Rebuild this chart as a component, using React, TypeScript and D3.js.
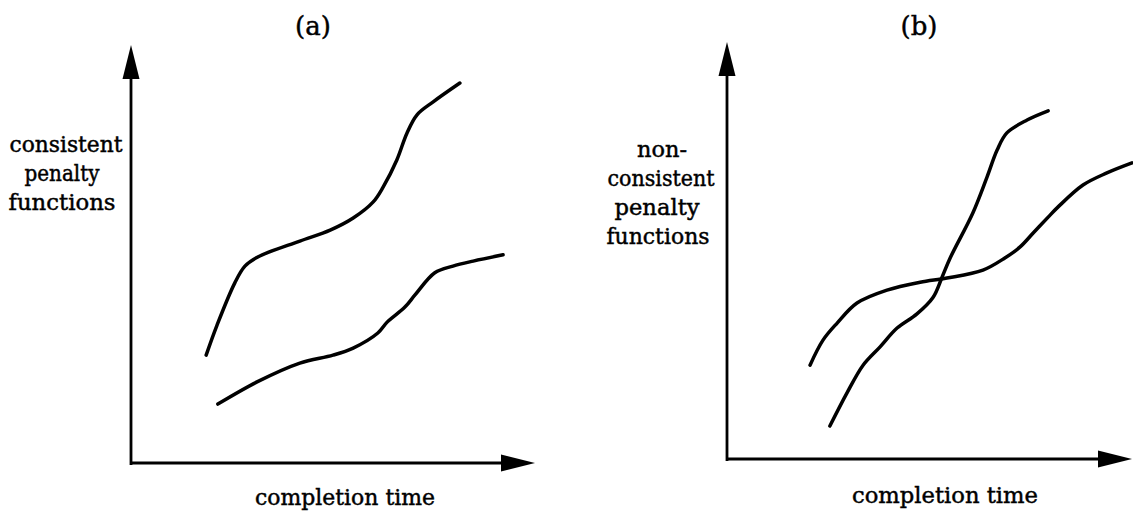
import React from "react";
import * as d3 from "d3";

// Panel (a): consistent penalty functions (x: completion time, y: penalty, 0-100 units)
const aUpperX = [18.6, 21.3, 25.7, 28.2, 31.4, 41.8, 49.3, 55.0, 59.9, 62.4, 65.8, 68.3, 70.8, 74.8, 81.4];
const aUpperY = [25.8, 33.0, 43.1, 47.1, 49.3, 53.1, 55.7, 58.6, 62.4, 66.0, 72.5, 78.9, 83.3, 86.4, 90.9];
const aLowerX = [21.5, 31.2, 41.8, 50.0, 55.0, 61.1, 63.4, 67.8, 70.3, 75.2, 79.7, 84.7, 92.1];
const aLowerY = [14.1, 19.4, 23.9, 25.8, 27.5, 31.1, 33.7, 37.3, 40.2, 45.5, 47.1, 48.3, 49.8];

// Panel (b): non-consistent penalty functions
const bFlatX = [20.5, 23.7, 27.2, 32.1, 39.5, 47.7, 54.3, 63.2, 68.6, 72.3, 75.6, 79.3, 81.7, 87.9, 93.8, 100];
const bFlatY = [22.5, 28.5, 32.6, 37.4, 40.5, 42.4, 43.4, 45.3, 48.2, 50.8, 54.2, 58.0, 60.4, 65.7, 68.6, 71.0];
const bSteepX = [25.4, 29.6, 33.6, 37.8, 42.0, 46.9, 50.9, 53.1, 55.1, 60.7, 64.2, 66.7, 69.1, 74.1, 79.3];
const bSteepY = [7.9, 15.8, 22.5, 26.9, 31.4, 34.8, 38.8, 43.6, 48.2, 59.0, 67.6, 74.1, 78.2, 81.3, 83.5];

const titles = ["(a)", "(b)"];
const aYLabel = ["consistent", "penalty", "functions"];
const bYLabel = ["non-", "consistent", "penalty", "functions"];
const xLabel = "completion time";

const FONT = "DejaVu Serif, Liberation Serif, serif";

type Pt = [number, number];
const zip = (xs: number[], ys: number[]): Pt[] => xs.map((x, i) => [x, ys[i]]);

function Panel({
  x0, x1, y0, y1, curves, title, titleX, yLabel, yLabelLines, xLabelPos,
}: {
  x0: number; x1: number; y0: number; y1: number;
  curves: Pt[][]; title: string; titleX: number;
  yLabel: string[]; yLabelLines: { cx: number; y: number; w: number }[];
  xLabelPos: { cx: number; y: number; w: number };
}) {
  const xs = d3.scaleLinear().domain([0, 100]).range([x0, x1]);
  const ys = d3.scaleLinear().domain([0, 100]).range([y0, y1]);
  const line = d3
    .line<Pt>()
    .x((d) => xs(d[0]))
    .y((d) => ys(d[1]))
    .curve(d3.curveCatmullRom.alpha(0.5));
  const headLenY = 34, headHalf = 8.5, headLenX = 34;
  const ox = xs(0), oy = ys(0);
  const tipY = ys(100), tipX = xs(100);
  const textStroke = { stroke: "#000", strokeWidth: 0.45 };
  return (
    <g>
      {/* y axis */}
      <line x1={ox} y1={oy + 2} x2={ox} y2={tipY + headLenY - 2} stroke="#000" strokeWidth={2.8} />
      <path d={`M${ox},${tipY} L${ox - headHalf},${tipY + headLenY} L${ox + headHalf},${tipY + headLenY} Z`} fill="#000" />
      {/* x axis */}
      <line x1={ox - 1} y1={oy} x2={tipX - headLenX + 2} y2={oy} stroke="#000" strokeWidth={2.8} />
      <path d={`M${tipX},${oy} L${tipX - headLenX},${oy - headHalf} L${tipX - headLenX},${oy + headHalf} Z`} fill="#000" />
      {curves.map((c, i) => (
        <path key={i} d={line(c) || ""} fill="none" stroke="#000" strokeWidth={3.5} strokeLinecap="round" strokeLinejoin="round" />
      ))}
      <text x={titleX} y={35} textAnchor="middle" fontFamily={FONT} fontSize={26} fill="#000" {...textStroke}>{title}</text>
      {yLabel.map((t, i) => (
        <text key={t + i} x={yLabelLines[i].cx} y={yLabelLines[i].y} textAnchor="middle" fontFamily={FONT}
          fontSize={22} fill="#000" textLength={yLabelLines[i].w} lengthAdjust="spacingAndGlyphs" {...textStroke}>{t}</text>
      ))}
      <text x={xLabelPos.cx} y={xLabelPos.y} textAnchor="middle" fontFamily={FONT} fontSize={22} fill="#000"
        textLength={xLabelPos.w} lengthAdjust="spacingAndGlyphs" {...textStroke}>{xLabel}</text>
    </g>
  );
}

export default function App() {
  return (
    <svg width={1133} height={515} style={{ position: "absolute", left: 0, top: 0, background: "#fff" }}>
      <rect width={1133} height={515} fill="#fff" />
      <Panel
        x0={131} x1={535} y0={463} y1={45}
        curves={[zip(aUpperX, aUpperY), zip(aLowerX, aLowerY)]}
        title={titles[0]} titleX={313}
        yLabel={aYLabel}
        yLabelLines={[{ cx: 66, y: 152, w: 113 }, { cx: 62, y: 181, w: 75 }, { cx: 62, y: 210, w: 107 }]}
        xLabelPos={{ cx: 345, y: 505, w: 180 }}
      />
      <Panel
        x0={727} x1={1132} y0={459} y1={42}
        curves={[zip(bFlatX, bFlatY), zip(bSteepX, bSteepY)]}
        title={titles[1]} titleX={919}
        yLabel={bYLabel}
        yLabelLines={[{ cx: 662, y: 157, w: 50 }, { cx: 661, y: 186, w: 107 }, { cx: 657, y: 215, w: 85 }, { cx: 658, y: 244, w: 103 }]}
        xLabelPos={{ cx: 945, y: 503, w: 186 }}
      />
    </svg>
  );
}
